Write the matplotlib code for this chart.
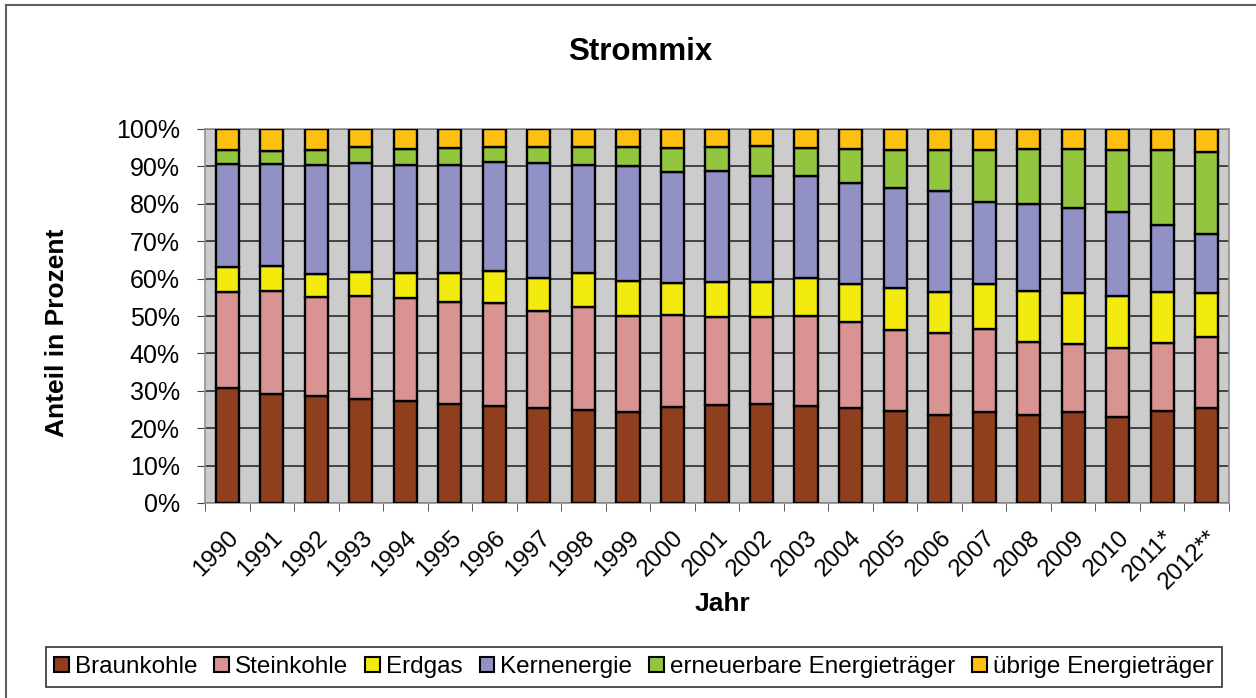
import matplotlib.pyplot as plt
import matplotlib.transforms as mtransforms
import numpy as np

plt.rcParams['font.family'] = ['Liberation Sans', 'DejaVu Sans']

years = ["1990", "1991", "1992", "1993", "1994", "1995", "1996", "1997", "1998",
         "1999", "2000", "2001", "2002", "2003", "2004", "2005", "2006", "2007",
         "2008", "2009", "2010", "2011*", "2012**"]

# Anteile in Prozent
braunkohle = [30.8, 29.1, 28.5, 27.9, 27.3, 26.4, 26.0, 25.5, 24.8, 24.3, 25.6, 26.3,
              26.6, 25.9, 25.4, 24.6, 23.6, 24.3, 23.4, 24.3, 23.1, 24.5, 25.5]
steinkohle = [25.7, 27.7, 26.5, 27.5, 27.4, 27.4, 27.6, 25.9, 27.5, 25.7, 24.8, 23.5,
              23.0, 24.1, 23.1, 21.7, 21.8, 22.1, 19.6, 18.2, 18.3, 18.4, 19.0]
erdgas = [6.5, 6.7, 6.2, 6.3, 6.9, 7.6, 8.3, 8.8, 9.2, 9.3, 8.5, 9.4,
          9.5, 10.1, 10.0, 11.3, 10.9, 12.1, 13.7, 13.6, 14.0, 13.6, 11.6]
kernenergie = [27.7, 27.2, 29.3, 29.2, 28.7, 28.9, 29.2, 30.7, 29.0, 30.7, 29.5, 29.5,
               28.4, 27.2, 27.0, 26.6, 27.0, 22.0, 23.3, 22.7, 22.5, 17.9, 15.9]
erneuerbare = [3.6, 3.3, 3.8, 4.2, 4.3, 4.5, 4.1, 4.4, 4.7, 5.2, 6.4, 6.5,
               7.9, 7.6, 9.2, 10.1, 11.0, 13.8, 14.6, 15.8, 16.4, 20.1, 21.8]
uebrige = [5.7, 6.0, 5.7, 4.9, 5.4, 5.2, 4.8, 4.7, 4.8, 4.8, 5.2, 4.8,
           4.6, 5.1, 5.3, 5.7, 5.7, 5.7, 5.4, 5.4, 5.7, 5.5, 6.2]

labels = ["Braunkohle", "Steinkohle", "Erdgas", "Kernenergie",
          "erneuerbare Energieträger", "übrige Energieträger"]
colors = ["#8F3F1E", "#D99393", "#F3EB0E", "#9191C6", "#93C63E", "#FDBF12"]
series = [braunkohle, steinkohle, erdgas, kernenergie, erneuerbare, uebrige]

W, H = 1256, 698
fig = plt.figure(figsize=(W / 100, H / 100), dpi=100)
ax = fig.add_axes([205 / W, 1 - 503 / H, (1229 - 205) / W, (503 - 129) / H])

x = np.arange(len(years))
bottom = np.zeros(len(years))
for vals, lab, col in zip(series, labels, colors):
    vals = np.array(vals)
    ax.bar(x, vals, 0.52, bottom=bottom, color=col, edgecolor="black",
           linewidth=1.7, label=lab, zorder=3)
    bottom += vals

ax.set_facecolor("#CCCCCC")
ax.set_xlim(-0.5, len(years) - 0.5)
ax.set_ylim(0, 100)
ax.set_yticks(np.arange(0, 101, 10))
ax.set_yticklabels([f"{v}%" for v in range(0, 101, 10)], fontsize=18)
ax.yaxis.grid(True, color="#383838", linewidth=1.3, zorder=0)
ax.set_axisbelow(True)

ax.set_xticks(x)
ax.set_xticklabels(years, rotation=45, ha="right", va="top",
                   rotation_mode="anchor", fontsize=17.5)
shift = mtransforms.ScaledTranslation(-5 / 100, 0, fig.dpi_scale_trans)
for t in ax.get_xticklabels():
    t.set_transform(t.get_transform() + shift)
ax.set_xticks(np.arange(-0.5, len(years), 1), minor=True)
ax.tick_params(axis="x", which="major", length=0, pad=17)
ax.tick_params(axis="x", which="minor", length=6, direction="out", color="#404040")
ax.tick_params(axis="y", length=6, direction="out", color="#404040", pad=12)
for s in ax.spines.values():
    s.set_color("#909090")
    s.set_linewidth(1.2)

fig.text(57 / W, 1 - 333 / H, "Anteil in Prozent", fontsize=19, fontweight="bold",
         rotation=90, ha="center", va="center")
fig.text(722 / W, 1 - 604 / H, "Jahr", fontsize=19, fontweight="bold",
         ha="center", va="center")
fig.text(640 / W, 1 - 52 / H, "Strommix", fontsize=22.5, fontweight="bold",
         ha="center", va="center")

leg = fig.legend(loc="center", bbox_to_anchor=(634 / W, 1 - 667 / H), ncol=6,
                 fontsize=17.5, frameon=True, fancybox=False, edgecolor="black",
                 handlelength=0.6, handleheight=0.6, handletextpad=0.25,
                 columnspacing=0.7, borderpad=0.35, borderaxespad=0)
leg.get_frame().set_linewidth(1.2)
for h in leg.legend_handles:
    h.set_linewidth(1.5)

# Rahmen um das Diagramm (nur links und oben sichtbar)
fig.add_artist(plt.Line2D([6 / W, 6 / W], [0, 1 - 5 / H], color="#606060",
                          linewidth=1.5, transform=fig.transFigure))
fig.add_artist(plt.Line2D([6 / W, 1], [1 - 5 / H, 1 - 5 / H], color="#606060",
                          linewidth=1.5, transform=fig.transFigure))

fig.savefig("out.png", dpi=100)
